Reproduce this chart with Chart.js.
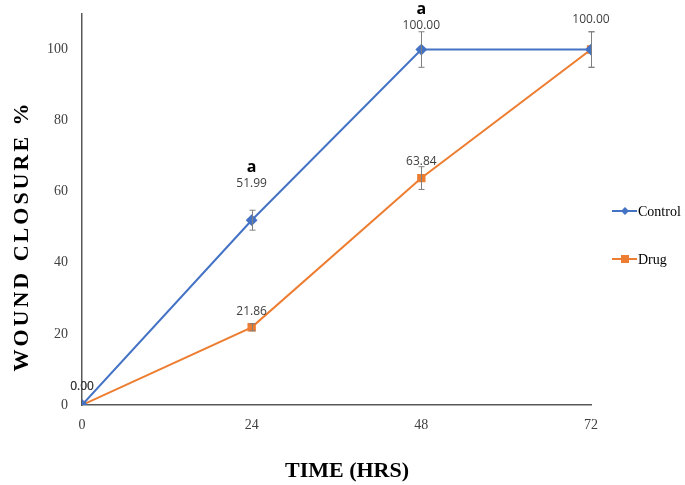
<!DOCTYPE html>
<html>
<head>
<meta charset="utf-8">
<script src="https://cdn.jsdelivr.net/npm/chart.js@4.4.0/dist/chart.umd.min.js"></script>
<style>
  html,body{margin:0;padding:0;background:#fff;}
  #wrap{width:685px;height:485px;position:relative;}
</style>
</head>
<body>
<div id="wrap"><canvas id="woundChart" width="685" height="485"></canvas></div>
<script>
// data
const hours = [0, 24, 48, 72];
const xTicks = [0, 24, 48, 72];
const controlVals = [0, 51.99, 100, 100];
const drugVals = [0, 21.86, 63.84, 100];
const controlErr = [0, 2.8, 5, 5];
const drugErr = [0, 1, 3.2, 5];
const controlSig = ["", "a", "a", ""];
const controlLabels = ["0.00", "51.99", "100.00", ""];
const drugLabels = ["0.00", "21.86", "63.84", "100.00"];

const blue = '#4472C4', orange = '#ED7D31';

function toPts(vals){ return hours.map((h,i)=>({x:h, y:vals[i]})); }

// error bars + value labels + "a" marks
const extras = {
  id:'extras',
  afterDatasetsDraw(chart){
    const ctx = chart.ctx, xs = chart.scales.x, ys = chart.scales.y;
    ctx.save();
    // error bars
    ctx.strokeStyle = '#7f7f7f'; ctx.lineWidth = 1;
    [[controlVals,controlErr],[drugVals,drugErr]].forEach(([vals,errs])=>{
      vals.forEach((v,i)=>{
        if(!errs[i]) return;
        const px = Math.round(xs.getPixelForValue(hours[i]))+0.5;
        const top = ys.getPixelForValue(v+errs[i]), bot = ys.getPixelForValue(v-errs[i]);
        ctx.beginPath();
        ctx.moveTo(px,top); ctx.lineTo(px,bot);
        ctx.moveTo(px-3,top); ctx.lineTo(px+3,top);
        ctx.moveTo(px-3,bot); ctx.lineTo(px+3,bot);
        ctx.stroke();
      });
    });
    // value labels
    ctx.fillStyle = '#404040';
    ctx.font = '12px "Open Sans", sans-serif';
    ctx.textAlign = 'center'; ctx.textBaseline = 'middle';
    const ctlOff = [18, 37, 24, 30], drugOff = [18, 16, 16, 30];
    controlLabels.forEach((t,i)=>{
      if(!t) return;
      ctx.fillText(t, xs.getPixelForValue(hours[i]), ys.getPixelForValue(controlVals[i]) - ctlOff[i]);
    });
    drugLabels.forEach((t,i)=>{
      if(!t) return;
      ctx.fillText(t, xs.getPixelForValue(hours[i]), ys.getPixelForValue(drugVals[i]) - drugOff[i]);
    });
    ctx.fillStyle = '#000';
    ctx.font = 'bold 16px "Open Sans", sans-serif';
    controlSig.forEach((t,i)=>{
      if(!t) return;
      ctx.fillText(t, xs.getPixelForValue(hours[i]), ys.getPixelForValue(controlVals[i]) - ctlOff[i] - 16);
    });
    // axis titles
    ctx.font = 'bold 22px "Liberation Serif", "Times New Roman", serif';
    ctx.fillText('TIME (HRS)', 347, 471);
    ctx.save();
    ctx.translate(22, 236); ctx.rotate(-Math.PI/2);
    ctx.letterSpacing = '3px';
    ctx.fillText('WOUND CLOSURE %', 0, 0);
    ctx.restore();
    // legend
    const items = [['Control', blue, 'rectRot', 211], ['Drug', orange, 'rect', 259]];
    ctx.font = '14px "Liberation Serif", "Times New Roman", serif';
    ctx.textAlign = 'left';
    items.forEach(([name,col,shape,y])=>{
      ctx.strokeStyle = col; ctx.lineWidth = 2;
      ctx.beginPath(); ctx.moveTo(612,y); ctx.lineTo(637,y); ctx.stroke();
      ctx.fillStyle = col;
      ctx.beginPath();
      if(shape==='rect'){ ctx.rect(621,y-4,8,8); }
      else { ctx.moveTo(625,y-4); ctx.lineTo(629,y); ctx.lineTo(625,y+4); ctx.lineTo(621,y); ctx.closePath(); }
      ctx.fill();
      ctx.fillStyle = '#000';
      ctx.fillText(name, 638, y+1);
    });
    ctx.restore();
  }
};

new Chart(document.getElementById('woundChart'), {
  type:'line',
  data:{
    datasets:[
      {label:'Control', data:toPts(controlVals), borderColor:blue, backgroundColor:blue,
       borderWidth:2, pointStyle:'rectRot', pointRadius:4.5, pointHoverRadius:4.5, tension:0},
      {label:'Drug', data:toPts(drugVals), borderColor:orange, backgroundColor:orange,
       borderWidth:2, pointStyle:'rect', pointRadius:4.5, pointHoverRadius:4.5, tension:0}
    ]
  },
  options:{
    responsive:false,
    animation:false,
    layout:{padding:{left:0, right:94, top:14, bottom:0}},
    plugins:{legend:{display:false}, tooltip:{enabled:false}},
    scales:{
      x:{
        type:'linear', min:0, max:72,
        afterBuildTicks(axis){ axis.ticks = xTicks.map(v=>({value:v})); },
        afterFit(axis){ axis.height = 80; axis.paddingLeft = 0; axis.paddingRight = 0; },
        grid:{display:false, drawTicks:false},
        border:{display:true, color:'#595959', width:1.5},
        ticks:{padding:12, color:'#404040', font:{family:'"Liberation Serif", serif', size:14}}
      },
      y:{
        min:0, max:110,
        afterBuildTicks(axis){ axis.ticks = [0,20,40,60,80,100].map(v=>({value:v})); },
        afterFit(axis){ axis.width = 82; axis.paddingTop = 0; axis.paddingBottom = 0; },
        grid:{display:false, drawTicks:false},
        border:{display:true, color:'#595959', width:1.5},
        ticks:{padding:14, color:'#404040', font:{family:'"Liberation Serif", serif', size:14}}
      }
    }
  },
  plugins:[extras]
});
</script>
</body>
</html>
